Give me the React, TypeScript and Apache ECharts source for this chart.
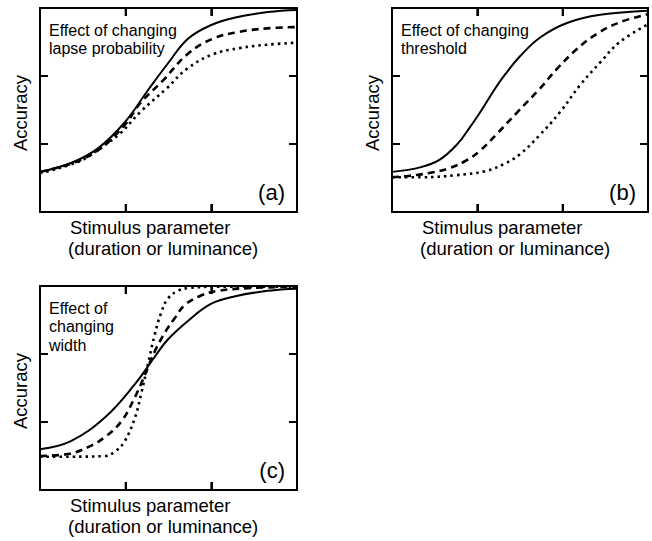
import React, { useEffect, useRef } from "react";
import * as echarts from "echarts";

// Panel (a): effect of changing lapse probability
const A_SOLID: number[][] = [
  [0, 0.59], [0.36, 0.72], [0.68, 0.94], [0.99, 1.32], [1.26, 1.79], [1.49, 2.18],
  [1.73, 2.55], [2.0, 2.75], [2.28, 2.86], [2.66, 2.94], [3, 2.97],
];
const A_DASHED: number[][] = [
  [0, 0.59], [0.36, 0.71], [0.68, 0.91], [0.99, 1.28], [1.17, 1.6], [1.44, 1.94],
  [1.72, 2.32], [2.02, 2.55], [2.33, 2.65], [2.65, 2.7], [3, 2.72],
];
const A_DOTTED: number[][] = [
  [0, 0.57], [0.47, 0.75], [0.7, 0.94], [0.93, 1.15], [1.17, 1.47], [1.48, 1.82],
  [1.72, 2.11], [2.02, 2.32], [2.33, 2.41], [2.65, 2.46], [3, 2.49],
];

// Panel (b): effect of changing threshold
const B_SOLID: number[][] = [
  [0, 0.59], [0.34, 0.66], [0.56, 0.77], [0.76, 0.99], [0.91, 1.24], [1.05, 1.5],
  [1.19, 1.78], [1.33, 2.03], [1.5, 2.29], [1.74, 2.57], [2.05, 2.78], [2.44, 2.9], [3, 2.96],
];
const B_DASHED: number[][] = [
  [0, 0.51], [0.19, 0.53], [0.42, 0.57], [0.66, 0.64], [0.86, 0.75], [1.03, 0.9],
  [1.23, 1.15], [1.47, 1.47], [1.73, 1.81], [1.93, 2.1], [2.17, 2.4], [2.4, 2.62],
  [2.67, 2.79], [3, 2.91],
];
const B_DOTTED: number[][] = [
  [0, 0.51], [0.34, 0.51], [0.74, 0.54], [1.09, 0.6], [1.32, 0.71], [1.5, 0.85],
  [1.73, 1.13], [1.97, 1.47], [2.2, 1.86], [2.44, 2.2], [2.67, 2.5], [3, 2.76],
];

// Panel (c): effect of changing width
const C_SOLID: number[][] = [
  [0, 0.6], [0.36, 0.72], [0.76, 1.07], [1.11, 1.56], [1.34, 1.96], [1.49, 2.21],
  [1.73, 2.49], [2.0, 2.74], [2.28, 2.85], [2.66, 2.93], [3, 2.96],
];
const C_DASHED: number[][] = [
  [0, 0.5], [0.33, 0.53], [0.56, 0.63], [0.76, 0.78], [0.95, 1.01], [1.11, 1.37],
  [1.23, 1.71], [1.34, 2.04], [1.47, 2.34], [1.58, 2.54], [1.69, 2.72], [1.88, 2.86],
  [2.08, 2.93], [2.46, 2.97], [3, 2.99],
];
const C_DOTTED: number[][] = [
  [0, 0.49], [0.36, 0.49], [0.76, 0.5], [0.88, 0.57], [0.99, 0.72], [1.11, 1.07],
  [1.18, 1.41], [1.26, 1.85], [1.34, 2.29], [1.41, 2.59], [1.49, 2.81], [1.61, 2.93],
  [1.73, 2.97], [2.1, 2.99], [3, 2.99],
];

const X_TICKS = [1, 2];
const PANEL_TITLES: string[][] = [
  ["Effect of changing", "lapse probability"],
  ["Effect of changing", "threshold"],
  ["Effect of", "changing", "width"],
];
const PANEL_LETTERS = ["(a)", "(b)", "(c)"];
const X_LABEL = ["Stimulus parameter", "(duration or luminance)"];
const Y_LABEL = "Accuracy";

const FONT = "'Liberation Sans', Arial, Helvetica, sans-serif";

const GRIDS = [
  { left: 40, top: 8, width: 257, height: 204 },
  { left: 392, top: 8, width: 256, height: 204 },
  { left: 40, top: 286, width: 257, height: 204 },
];

export default function App() {
  const ref = useRef<HTMLDivElement>(null);
  useEffect(() => {
    if (!ref.current) return;
    const chart = echarts.init(ref.current, null, { renderer: "svg" });
    const panels = [
      [A_SOLID, A_DASHED, A_DOTTED],
      [B_SOLID, B_DASHED, B_DOTTED],
      [C_SOLID, C_DASHED, C_DOTTED],
    ];
    const tickLen = 8;
    const xAxes: any[] = [];
    const yAxes: any[] = [];
    const series: any[] = [];
    const graphic: any[] = [];
    GRIDS.forEach((g, i) => {
      const mk = (position: string) => ({
        type: "value",
        min: 0,
        max: 3,
        interval: 1,
        gridIndex: i,
        position,
        axisLabel: { show: false },
        axisLine: { show: false, onZero: false },
        splitLine: { show: false },
        axisTick: { show: true, length: -tickLen, lineStyle: { color: "#000", width: 2 } },
      });
      xAxes.push(mk("bottom"));
      xAxes.push(mk("top"));
      yAxes.push(mk("left"));
      yAxes.push(mk("right"));
      const styles = [
        { type: "solid", width: 2 },
        { type: [7, 5], width: 2.6 },
        { type: [2.5, 4], width: 2.6 },
      ];
      panels[i].forEach((d, k) => {
        series.push({
          type: "line",
          data: d,
          xAxisIndex: i * 2,
          yAxisIndex: i * 2,
          smooth: 0.4,
          showSymbol: false,
          symbol: "none",
          lineStyle: { color: "#000", ...styles[k] },
          z: 3,
        });
      });
      // inward ticks on the bottom and top borders, placed through the x scale
      series.push({
        type: "custom",
        xAxisIndex: i * 2,
        yAxisIndex: i * 2,
        data: X_TICKS.map((t) => [t, 0]),
        clip: false,
        silent: true,
        z: 10,
        renderItem: (_p: any, api: any) => {
          const v = api.value(0);
          const b = api.coord([v, 0]);
          const t = api.coord([v, 3]);
          return {
            type: "group",
            children: [
              { type: "line", shape: { x1: b[0], y1: b[1], x2: b[0], y2: b[1] - tickLen }, style: { stroke: "#000", lineWidth: 2 } },
              { type: "line", shape: { x1: t[0], y1: t[1], x2: t[0], y2: t[1] + tickLen }, style: { stroke: "#000", lineWidth: 2 } },
            ],
          };
        },
      });
      const lh = PANEL_TITLES[i].length === 3 ? 18.5 : 18;
      PANEL_TITLES[i].forEach((t, k) => {
        graphic.push({
          type: "text",
          x: g.left + 9,
          y: g.top + 22 + k * lh,
          style: { text: t, fill: "#000", font: `16px ${FONT}`, align: "left", verticalAlign: "middle" },
        });
      });
      graphic.push({
        type: "text",
        x: g.left + g.width - 12,
        y: g.top + g.height - 20,
        style: { text: PANEL_LETTERS[i], fill: "#000", font: `22px ${FONT}`, align: "right", verticalAlign: "middle" },
      });
      graphic.push({
        type: "text",
        x: g.left + 30,
        y: g.top + g.height + 15,
        style: { text: X_LABEL[0], fill: "#000", font: `18.5px ${FONT}`, align: "left", verticalAlign: "middle" },
      });
      graphic.push({
        type: "text",
        x: g.left + 28,
        y: g.top + g.height + 36,
        style: { text: X_LABEL[1], fill: "#000", font: `18.5px ${FONT}`, align: "left", verticalAlign: "middle" },
      });
      graphic.push({
        type: "text",
        x: g.left - 20,
        y: g.top + g.height / 2 + 3,
        rotation: Math.PI / 2,
        style: { text: Y_LABEL, fill: "#000", font: `18.5px ${FONT}`, align: "center", verticalAlign: "middle" },
      });
    });
    chart.setOption({
      animation: false,
      backgroundColor: "#fff",
      grid: GRIDS.map((g) => ({ ...g, show: true, borderColor: "#000", borderWidth: 2 })),
      xAxis: xAxes,
      yAxis: yAxes,
      series,
      graphic,
    });
    return () => chart.dispose();
  }, []);
  return <div ref={ref} style={{ position: "fixed", left: 0, top: 0, width: 652, height: 541 }} />;
}
